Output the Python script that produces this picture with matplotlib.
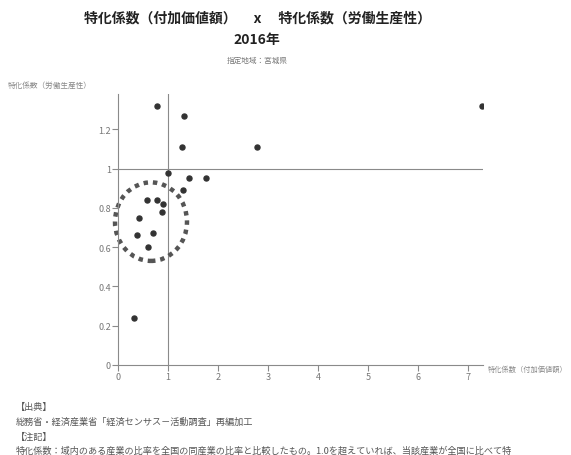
import matplotlib
matplotlib.use("Agg")
import matplotlib.pyplot as plt
from matplotlib.patches import Ellipse

plt.rcParams['font.family'] = ['Noto Sans CJK JP', 'DejaVu Sans']

# 特化係数（付加価値額） / 特化係数（労働生産性）
value_added = [0.77, 1.32, 1.27, 2.78, 7.28, 1.00, 1.41, 1.75, 1.30,
               0.58, 0.78, 0.89, 0.88, 0.41, 0.38, 0.69, 0.60, 0.32]
productivity = [1.32, 1.27, 1.11, 1.11, 1.32, 0.98, 0.95, 0.95, 0.89,
                0.84, 0.84, 0.82, 0.78, 0.75, 0.66, 0.67, 0.60, 0.24]

x_ticks = [0, 1, 2, 3, 4, 5, 6, 7]
y_ticks = [0, 0.2, 0.4, 0.6, 0.8, 1.0, 1.2]
y_tick_labels = ["0", "0.2", "0.4", "0.6", "0.8", "1", "1.2"]

title = "特化係数（付加価値額）　 x 　特化係数（労働生産性）"
year = "2016年"
region = "指定地域：宮城県"
notes = [
    "【出典】",
    "総務省・経済産業省「経済センサス－活動調査」再編加工",
    "【注記】",
    "特化係数：域内のある産業の比率を全国の同産業の比率と比較したもの。1.0を超えていれば、当該産業が全国に比べて特",
]

fig = plt.figure(figsize=(5.71, 4.56), dpi=100)
ax = fig.add_axes([118 / 571, 90 / 456, 365 / 571, 271 / 456])

grid_col = "#8a8a8a"
ax.axvline(1, color=grid_col, lw=0.8, zorder=1)
ax.axhline(1, color=grid_col, lw=0.8, zorder=1)

ax.scatter(value_added, productivity, s=13, color="#333333", zorder=3)

# hand-drawn dotted circle around the cluster
ax.add_patch(Ellipse((0.66, 0.73), 1.44, 0.40, fill=False,
                     edgecolor="#555555", lw=3.2, linestyle=(0, (1, 1.1)),
                     zorder=2, clip_on=False))

ax.set_xlim(0, 7.3)
ax.set_ylim(0, 1.38)
ax.set_xticks(x_ticks)
ax.set_yticks(y_ticks)
ax.set_yticklabels(y_tick_labels)
for s in ["top", "right"]:
    ax.spines[s].set_visible(False)
for s in ["left", "bottom"]:
    ax.spines[s].set_color(grid_col)
    ax.spines[s].set_linewidth(0.8)
ax.tick_params(colors=grid_col, labelcolor="#777777", labelsize=6.5,
               length=4, width=0.8, pad=1)

fig.text(488 / 571, 1 - 370 / 456, "特化係数（付加価値額）", fontsize=5.2,
         color="#888888", va="center", ha="left")
fig.text(8 / 571, 1 - 86 / 456, "特化係数（労働生産性）", fontsize=5.5,
         color="#888888", va="center", ha="left")

cx = 257 / 571
fig.text(cx, 1 - 18 / 456, title, fontsize=10, fontweight="bold",
         ha="center", va="center", color="#222222")
fig.text(cx, 1 - 40 / 456, year, fontsize=10, fontweight="bold",
         ha="center", va="center", color="#222222")
fig.text(cx, 1 - 61 / 456, region, fontsize=5.5, ha="center",
         va="center", color="#777777")

for yy, line in zip([407, 422, 437, 451], notes):
    fig.text(16 / 571, 1 - yy / 456, line, fontsize=6.6, ha="left",
             va="center", color="#555555")

fig.savefig("out.png", dpi=100)
